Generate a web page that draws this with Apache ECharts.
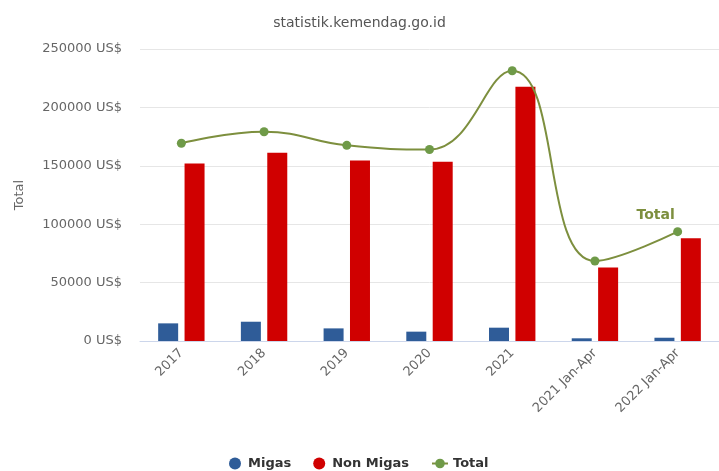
<!DOCTYPE html>
<html>
<head>
<meta charset="utf-8">
<script src="https://cdn.jsdelivr.net/npm/echarts@6/dist/echarts.min.js"></script>
<style>html,body{margin:0;padding:0;background:#fff}#c{width:719px;height:471px}</style>
</head>
<body>
<div id="c"></div>
<script>
var categories = ['2017', '2018', '2019', '2020', '2021', '2021 Jan-Apr', '2022 Jan-Apr'];
var migas = [15100, 16500, 10800, 8000, 11400, 2300, 2800];
var nonMigas = [152000, 161200, 154500, 153500, 217700, 63000, 88000];
var total = [169300, 179200, 167500, 164000, 231400, 68500, 93600];
var yTicks = [0, 50000, 100000, 150000, 200000, 250000];

var FONT = '"DejaVu Sans", Verdana, sans-serif';
var chart = echarts.init(document.getElementById('c'), null, {renderer: 'canvas'});
var totalData = total.map(function (v, i) {
  if (i === total.length - 1) {
    return {value: v, label: {show: true, formatter: 'Total', position: 'top', offset: [-22, 0],
      color: '#7d8f3e', fontFamily: FONT, fontSize: 14, fontWeight: 'bold'}};
  }
  return v;
});
chart.setOption({
  animation: false,
  backgroundColor: '#fff',
  title: {
    text: 'statistik.kemendag.go.id', left: 'center', top: 11,
    textStyle: {color: '#555', fontFamily: FONT, fontSize: 14, fontWeight: 'normal'}
  },
  legend: {
    left: 224, top: 452, itemWidth: 16, itemHeight: 12, itemGap: 22,
    textStyle: {color: '#333', fontFamily: FONT, fontSize: 13, fontWeight: 'bold'},
    data: [{name: 'Migas', icon: 'circle'}, {name: 'Non Migas', icon: 'circle'}, {name: 'Total'}]
  },
  grid: {left: 140, right: -8, top: 49, bottom: 130, containLabel: false},
  xAxis: {
    type: 'category', data: categories,
    axisLine: {lineStyle: {color: '#ccd6eb'}},
    axisTick: {show: false},
    axisLabel: {rotate: 45, color: '#666', fontFamily: FONT, fontSize: 13, margin: 10, interval: 0}
  },
  yAxis: {
    type: 'value', min: yTicks[0], max: yTicks[yTicks.length - 1], interval: 50000,
    name: 'Total', nameLocation: 'middle', nameGap: 114, nameRotate: 90,
    nameTextStyle: {color: '#666', fontFamily: FONT, fontSize: 13},
    axisLine: {show: false}, axisTick: {show: false},
    splitLine: {lineStyle: {color: '#e6e6e6'}},
    axisLabel: {color: '#666', fontFamily: FONT, fontSize: 13, margin: 18,
      formatter: function (v) { return v + ' US$'; }}
  },
  series: [
    {name: 'Migas', type: 'bar', data: migas, barWidth: 20, barGap: '32%',
      itemStyle: {color: '#2f5c98'}},
    {name: 'Non Migas', type: 'bar', data: nonMigas, barWidth: 20,
      itemStyle: {color: '#d00000'}},
    {name: 'Total', type: 'line', data: totalData, smooth: 0.45,
      symbol: 'circle', symbolSize: 9,
      lineStyle: {color: '#7d8f3e', width: 2},
      itemStyle: {color: '#6f9a48'}}
  ]
});
</script>
</body>
</html>
